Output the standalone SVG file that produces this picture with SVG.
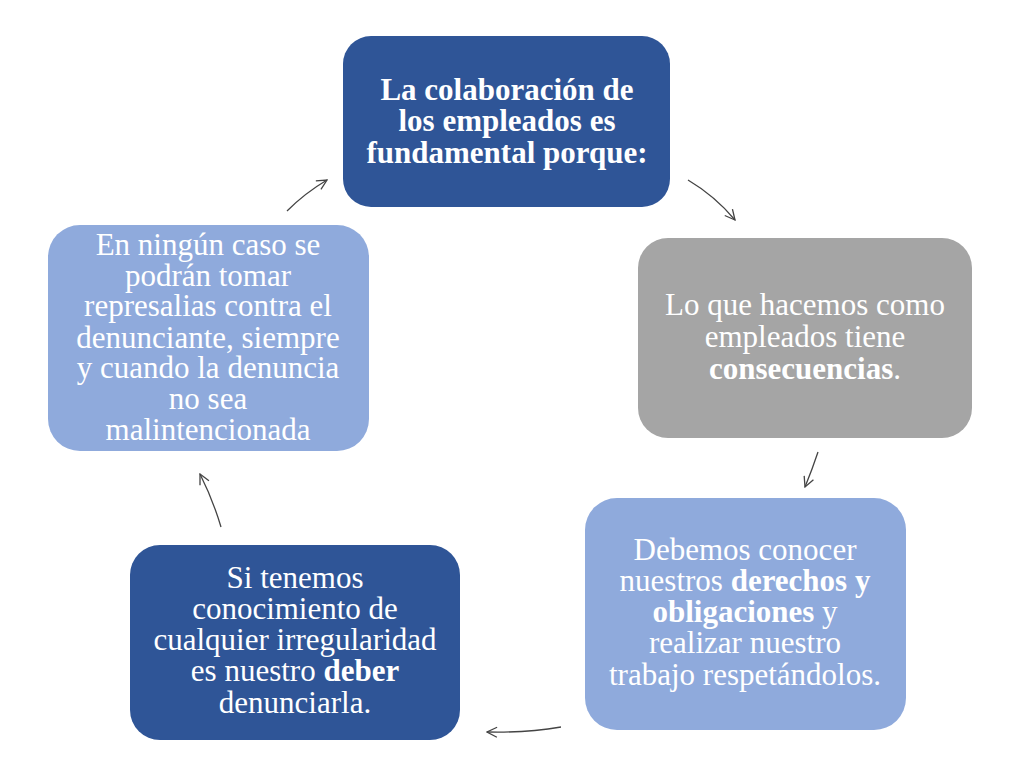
<svg xmlns="http://www.w3.org/2000/svg" width="1024" height="775" viewBox="0 0 1024 775">
<defs>
<marker id="ah" viewBox="0 0 12 12" refX="11" refY="6" markerWidth="12" markerHeight="12" markerUnits="userSpaceOnUse" orient="auto">
<path d="M1,1 L11,6 L1,11" fill="none" stroke="#444" stroke-width="1.3"/>
</marker>
<style>
.t{font-family:"Liberation Serif","Times New Roman",serif;font-size:31px;fill:#fff;text-anchor:middle}
.b{font-weight:bold}
.c{fill:none;stroke:#444;stroke-width:1.3;marker-end:url(#ah)}
</style>
</defs>
<rect width="1024" height="775" fill="#fff"/>
<g id="n1">
<rect x="343" y="36" width="327" height="171" rx="28" fill="#2F5597"/>
<text class="t b" x="507" y="100">La colaboración de</text>
<text class="t b" x="507" y="131">los empleados es</text>
<text class="t b" x="507" y="163">fundamental porque:</text>
</g>
<g id="n2">
<rect x="638" y="238" width="334" height="200" rx="30" fill="#A5A5A5"/>
<text class="t" x="805" y="315">Lo que hacemos como</text>
<text class="t" x="805" y="347">empleados tiene</text>
<text class="t" x="805" y="379"><tspan class="b">consecuencias</tspan>.</text>
</g>
<g id="n3">
<rect x="585" y="498" width="321" height="232" rx="32" fill="#8FAADC"/>
<text class="t" x="745" y="560">Debemos conocer</text>
<text class="t" x="745" y="591">nuestros <tspan class="b">derechos y</tspan></text>
<text class="t" x="745" y="622"><tspan class="b">obligaciones</tspan> y</text>
<text class="t" x="745" y="653">realizar nuestro</text>
<text class="t" x="745" y="685">trabajo respetándolos.</text>
</g>
<g id="n4">
<rect x="130" y="545" width="330" height="195" rx="30" fill="#2F5597"/>
<text class="t" x="295" y="588">Si tenemos</text>
<text class="t" x="295" y="619">conocimiento de</text>
<text class="t" x="295" y="650">cualquier irregularidad</text>
<text class="t" x="295" y="681">es nuestro <tspan class="b">deber</tspan></text>
<text class="t" x="295" y="713">denunciarla.</text>
</g>
<g id="n5">
<rect x="48" y="225" width="321" height="226" rx="32" fill="#8FAADC"/>
<text class="t" x="208" y="255">En ningún caso se</text>
<text class="t" x="208" y="286">podrán tomar</text>
<text class="t" x="208" y="316">represalias contra el</text>
<text class="t" x="208" y="348">denunciante, siempre</text>
<text class="t" x="208" y="378">y cuando la denuncia</text>
<text class="t" x="208" y="409">no sea</text>
<text class="t" x="208" y="440">malintencionada</text>
</g>
<g id="connectors">
<path class="c" d="M287,211 Q305,193 327,180"/>
<path class="c" d="M688,180 Q715,196 735,220"/>
<path class="c" d="M818,452 Q812,470 805,487"/>
<path class="c" d="M561,727 Q525,733 487,732"/>
<path class="c" d="M221,527 Q213,500 200,474"/>
</g>
</svg>
